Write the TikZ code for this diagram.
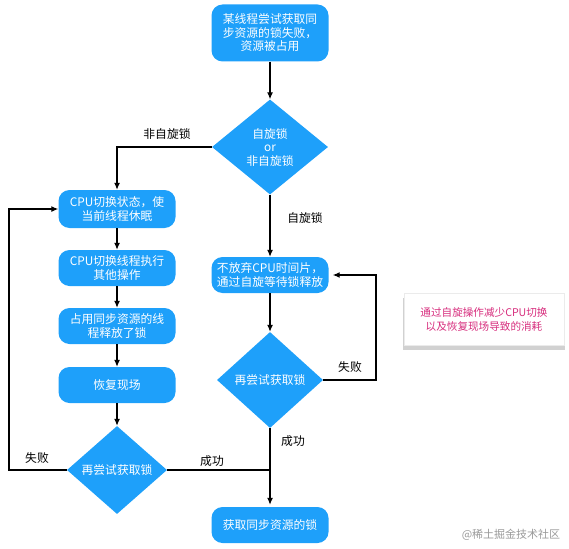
\documentclass[tikz,border=0pt]{standalone}
\usepackage{fontspec}
\setmainfont{Noto Sans CJK SC}
\usetikzlibrary{shapes.geometric,shadows,arrows.meta}
\definecolor{flowblue}{RGB}{30,160,250}
\definecolor{notepink}{RGB}{215,45,125}

\begin{document}
\begin{tikzpicture}[x=1pt,y=-1pt,
  flowbox/.style={rectangle, rounded corners=11pt, fill=flowblue, text=white, minimum width=117pt, minimum height=36pt, align=center, inner sep=2pt, font=\fontsize{11.8}{13.5}\selectfont},
  decide/.style={diamond, fill=flowblue, text=white, align=center, inner sep=0pt, font=\fontsize{11.8}{13.5}\selectfont},
  flow/.style={draw, line width=1.2pt, -{Latex[length=7pt,width=6pt]}},
  lbl/.style={font=\fontsize{11.8}{13.5}\selectfont}]
\useasboundingbox (0,0) rectangle (569,548);
% main column
\node [flowbox, minimum height=57pt] (start) at (270,33) {某线程尝试获取同\\步资源的锁失败，\\资源被占用};
\node [decide, minimum width=116pt, minimum height=95pt] (kind) at (270,147) {自旋锁\\or\\非自旋锁};
% left branch
\node [flowbox, minimum height=38pt] (sleep) at (117,209) {CPU切换状态，使\\当前线程休眠};
\node [flowbox] (other) at (117,268) {CPU切换线程执行\\其他操作};
\node [flowbox] (release) at (117,326) {占用同步资源的线\\程释放了锁};
\node [flowbox] (restore) at (117,385) {恢复现场};
\node [decide, minimum width=100pt, minimum height=88pt] (retryl) at (117,470) {再尝试获取锁};
% right branch
\node [flowbox] (spin) at (270,275) {不放弃CPU时间片，\\通过自旋等待锁释放};
\node [decide, minimum width=106pt, minimum height=96pt] (retryr) at (270,380) {再尝试获取锁};
\node [flowbox] (got) at (270,525) {获取同步资源的锁};
% note
\node [rectangle, fill=white, draw=black!8, minimum width=160pt, minimum height=52pt, align=center, text=notepink,
  font=\fontsize{10.6}{14}\selectfont,
  drop shadow={shadow xshift=0pt, shadow yshift=-5pt, shadow scale=1.01, opacity=0.3, fill=black!60}] (note) at (484,319)
  {通过自旋操作减少CPU切换\\以及恢复现场导致的消耗};
\node [text=black!40, font=\fontsize{11}{12}\selectfont] (mark) at (511,535) {@稀土掘金技术社区};

\coordinate (lloop) at (9,470);
\coordinate (rloop) at (376,380);
\coordinate (join) at (270,470);

\draw [flow] (start) -- (kind);
\draw [flow] (kind.west) -| (sleep.north);
\draw [flow] (kind.south) -- (spin.north);
\draw [flow] (sleep) -- (other);
\draw [flow] (other) -- (release);
\draw [flow] (release) -- (restore);
\draw [flow] (restore) -- (retryl);
\draw [flow] (retryl.west) -- (lloop) |- (sleep.west);
\draw [flow, -] (retryl.east) -- (join);
\draw [flow] (spin) -- (retryr);
\draw [flow, shorten >=4pt] (retryr.east) -- (rloop) |- (spin.east);
\draw [flow, shorten >=2pt] (retryr.south) -- (got.north);

\node [lbl] (nonspin) at (167,134) {非自旋锁};
\node [lbl] (isspin) at (305,218) {自旋锁};
\node [lbl] (faill) at (37,458) {失败};
\node [lbl] (okl) at (212,461) {成功};
\node [lbl] (failr) at (350,367) {失败};
\node [lbl] (okr) at (293,441) {成功};
\end{tikzpicture}
\end{document}
